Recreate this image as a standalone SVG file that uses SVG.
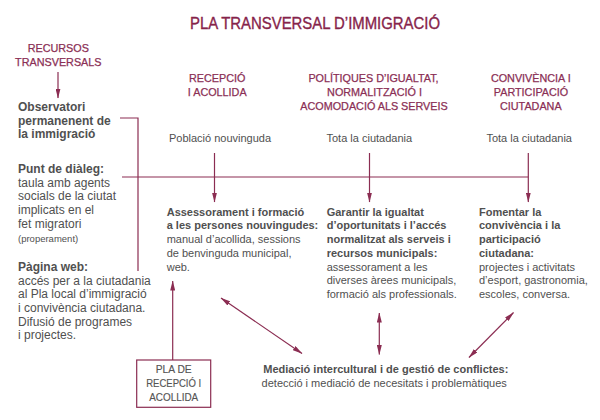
<svg xmlns="http://www.w3.org/2000/svg" width="600" height="420" viewBox="0 0 600 420">
<style>
  text { font-family: "Liberation Sans", Arial, sans-serif; }
  .title { font-size: 16.5px; fill: #86234a; stroke: #86234a; stroke-width: 0.35; text-anchor: middle; }
  .head { font-size: 10.8px; fill: #8b2f55; stroke: #8b2f55; stroke-width: 0.25; text-anchor: middle; }
  .left { font-size: 12px; fill: #505050; }
  .body { font-size: 11px; fill: #505050; }
  .b { font-weight: bold; }
  .small { font-size: 9.5px; fill: #505050; }
  .mid { text-anchor: middle; }
  .box { font-size: 10.5px; fill: #555555; stroke: #555555; stroke-width: 0.15; text-anchor: middle; }
  .ln { stroke: #8b2d52; stroke-width: 1.2; fill: none; }
  .arr { marker-end: url(#ah); }
  .dbl { marker-start: url(#ah); marker-end: url(#ah); }
</style>
<defs>
  <marker id="ah" viewBox="0 0 10 5" refX="9.5" refY="2.5" markerWidth="10" markerHeight="5" markerUnits="userSpaceOnUse" orient="auto-start-reverse">
    <path d="M0,0 L10,2.5 L0,5 z" fill="#8b2d52"/>
  </marker>
</defs>
<rect width="600" height="420" fill="#ffffff"/>

<g id="title">
  <text class="title" x="315" y="29" textLength="250" lengthAdjust="spacingAndGlyphs">PLA TRANSVERSAL D’IMMIGRACIÓ</text>
</g>

<g id="connectors">
  <line class="ln arr" x1="58" y1="72" x2="58" y2="98"/>
  <polyline class="ln" points="120,118 138,118 138,271"/>
  <line class="ln" x1="122" y1="177" x2="528.3" y2="177"/>
  <line class="ln arr" x1="214.5" y1="153" x2="214.5" y2="202"/>
  <line class="ln arr" x1="369.5" y1="153" x2="369.5" y2="202"/>
  <line class="ln arr" x1="528.3" y1="153" x2="528.3" y2="202"/>
  <line class="ln arr" x1="172.7" y1="360" x2="172.7" y2="281"/>
  <line class="ln dbl" x1="221" y1="298" x2="302" y2="353.5"/>
  <line class="ln dbl" x1="379.3" y1="313" x2="379.3" y2="354.5"/>
  <line class="ln dbl" x1="513.5" y1="312.5" x2="469" y2="357.5"/>
</g>

<g id="recursos">
  <text class="head" x="58.3" y="52">RECURSOS</text>
  <text class="head" x="58.3" y="66">TRANSVERSALS</text>
</g>

<g id="observatori">
  <text class="left b" x="18" y="111">Observatori</text>
  <text class="left b" x="18" y="124.5">permanenent de</text>
  <text class="left b" x="18" y="138">la immigració</text>
</g>

<g id="punt-dialeg">
  <text class="left b" x="18" y="173">Punt de diàleg:</text>
  <text class="left" x="18" y="186.7">taula amb agents</text>
  <text class="left" x="18" y="200.3">socials de la ciutat</text>
  <text class="left" x="18" y="214.2">implicats en el</text>
  <text class="left" x="18" y="228">fet migratori</text>
  <text class="small" x="18" y="241.5">(properament)</text>
</g>

<g id="pagina-web">
  <text class="left b" x="18" y="271">Pàgina web:</text>
  <text class="left" x="18" y="284.5">accés per a la ciutadania</text>
  <text class="left" x="18" y="298.3">al Pla local d’immigració</text>
  <text class="left" x="18" y="311.9">i convivència ciutadana.</text>
  <text class="left" x="18" y="325.6">Difusió de programes</text>
  <text class="left" x="18" y="339.3">i projectes.</text>
</g>

<g id="recepcio">
  <text class="head" x="217.2" y="81.7">RECEPCIÓ</text>
  <text class="head" x="217.2" y="95.7">I ACOLLIDA</text>
  <text class="body mid" x="220" y="141.5">Població nouvinguda</text>
</g>

<g id="politiques">
  <text class="head" x="373.5" y="81.7">POLÍTIQUES D’IGUALTAT,</text>
  <text class="head" x="374.5" y="95.7">NORMALITZACIÓ I</text>
  <text class="head" x="374" y="109.5">ACOMODACIÓ ALS SERVEIS</text>
  <text class="body mid" x="369.3" y="141.5">Tota la ciutadania</text>
</g>

<g id="convivencia">
  <text class="head" x="530.8" y="81.7">CONVIVÈNCIA I</text>
  <text class="head" x="531" y="95.7">PARTICIPACIÓ</text>
  <text class="head" x="530.8" y="109.5">CIUTADANA</text>
  <text class="body mid" x="529.2" y="141.5">Tota la ciutadania</text>
</g>

<g id="assessorament">
  <text class="body b" x="166.7" y="215.5">Assessorament i formació</text>
  <text class="body b" x="166.7" y="229.3">a les persones nouvingudes:</text>
  <text class="body" x="166.7" y="243">manual d’acollida, sessions</text>
  <text class="body" x="166.7" y="256.8">de benvinguda municipal,</text>
  <text class="body" x="166.7" y="270.6">web.</text>
</g>

<g id="garantir">
  <text class="body b" x="326.7" y="215.5">Garantir la igualtat</text>
  <text class="body b" x="326.7" y="229.3">d’oportunitats i l’accés</text>
  <text class="body b" x="326.7" y="243">normalitzat als serveis i</text>
  <text class="body b" x="326.7" y="256.8">recursos municipals:</text>
  <text class="body" x="326.7" y="270.6">assessorament a les</text>
  <text class="body" x="326.7" y="284.4">diverses àrees municipals,</text>
  <text class="body" x="326.7" y="298.2">formació als professionals.</text>
</g>

<g id="fomentar">
  <text class="body b" x="479" y="215.5">Fomentar la</text>
  <text class="body b" x="479" y="229.3">convivència i la</text>
  <text class="body b" x="479" y="243">participació</text>
  <text class="body b" x="479" y="256.8">ciutadana:</text>
  <text class="body" x="479" y="270.6">projectes i activitats</text>
  <text class="body" x="479" y="284.4">d’esport, gastronomia,</text>
  <text class="body" x="479" y="298.2">escoles, conversa.</text>
</g>

<g id="mediacio">
  <text class="body b mid" x="385.8" y="373.3">Mediació intercultural i de gestió de conflictes:</text>
  <text class="body mid" x="384.2" y="386.5">detecció i mediació de necesitats i problemàtiques</text>
</g>

<g id="pla-recepcio">
  <rect x="136.7" y="360" width="74" height="47.3" fill="none" stroke="#8b2d52" stroke-width="1.2"/>
  <text class="box" x="173.7" y="373.3" textLength="36" lengthAdjust="spacingAndGlyphs">PLA DE</text>
  <text class="box" x="173.7" y="386.7" textLength="55" lengthAdjust="spacingAndGlyphs">RECEPCIÓ I</text>
  <text class="box" x="173.7" y="400.5" textLength="49" lengthAdjust="spacingAndGlyphs">ACOLLIDA</text>
</g>
</svg>
